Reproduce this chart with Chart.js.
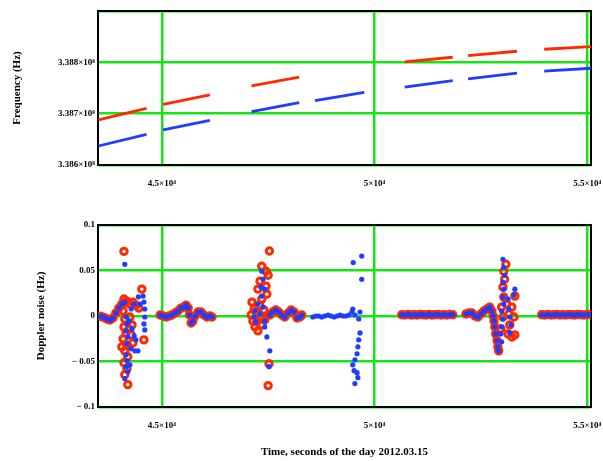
<!DOCTYPE html>
<html>
<head>
<meta charset="utf-8">
<script src="https://cdn.jsdelivr.net/npm/chart.js@4.4.1/dist/chart.umd.min.js"></script>
<style>
  body { margin: 0; background: #fff; }
  #wrap { position: relative; width: 603px; height: 461px; }
  canvas { position: absolute; left: 0; }
  #freqChart { top: 0; }
  #noiseChart { top: 200px; }
</style>
</head>
<body>
<div id="wrap">
  <canvas id="freqChart" width="603" height="200"></canvas>
  <canvas id="noiseChart" width="603" height="261"></canvas>
</div>
<script>
// Axis ticks and labels
const timeTicks = [45000, 50000, 55000];
const timeTickLabels = ['4.5×10⁴', '5×10⁴', '5.5×10⁴'];
const freqTicks = [3.386e8, 3.387e8, 3.388e8, 3.389e8];
const freqTickLabels = ['3.386×10⁸', '3.387×10⁸', '3.388×10⁸', ''];
const noiseTicks = [-0.1, -0.05, 0, 0.05, 0.1];
const noiseTickLabels = ['− 0.1', '− 0.05', '0', '0.05', '0.1'];

// Top plot: frequency passes (null = no data between passes)
const freqTime = [43510, 44640, 44840, 45030, 46130, 46620, 47110, 48230, 48400, 48600, 49760, 50200,
                  50710, 51840, 52020, 52200, 53350, 53670, 53990, 55090];
const freqRed = [3.386877e8, 3.387105e8, null, 3.387183e8, 3.387365e8, null, 3.387540e8, 3.387710e8, null,
                 null, null, null, 3.388008e8, 3.388099e8, null, 3.388131e8, 3.388216e8, null, 3.388255e8, 3.388306e8];
const freqBlue = [3.386370e8, 3.386598e8, null, 3.386682e8, 3.386871e8, null, 3.387039e8, 3.387214e8, null,
                  3.387253e8, 3.387417e8, null, 3.387515e8, 3.387643e8, null, 3.387676e8, 3.387788e8, null, 3.387827e8, 3.387885e8];

// Bottom plot: quiet stretches shared by both series
const bandTime = [
  43500, 43570, 43640, 43710, 43780, 43850, 43920, 43990, 44060, 44130,
  44960, 45030, 45100, 45170, 45240, 45310, 45380, 45450, 45520, 45570, 45620, 45650, 45690, 45730, 45780, 45850, 45920, 45990, 46060, 46130, 46180,
  47540, 47610, 47680, 47750, 47820, 47890, 47970, 48040, 48110, 48180, 48250, 48290,
  50640, 50710, 50790, 50860, 50930, 51000, 51070, 51140, 51210, 51280, 51350, 51420, 51490, 51560, 51630, 51700, 51770, 51840,
  52150, 52220, 52290, 52360, 52430, 52500, 52570, 52640, 52710, 52760, 52790, 52810, 52830, 52850, 52880, 52900, 52920,
  53930, 54000, 54080, 54150, 54220, 54290, 54360, 54430, 54500, 54570, 54640, 54710, 54780, 54850, 54920, 54990, 55060
];
const bandNoise = [
  0, -0.0005, -0.0016, -0.0033, -0.0044, -0.0022, 0.0033, 0.0087, 0.0131, 0.0153,
  0.0011, 0, -0.0011, 0, 0.0011, 0.0033, 0.0055, 0.0087, 0.0098, 0.0120, 0.0087, 0.0011, -0.0077, -0.0055, 0, 0.0044, 0.0044, 0.0011, -0.0011, 0, -0.0011,
  0.0011, 0.0044, 0.0066, 0.0044, 0.0011, -0.0011, 0.0033, 0.0066, 0.0044, -0.0022, -0.0011, 0.0011,
  0.0014, 0.0011, 0.0016, 0.0011, 0.0014, 0.0011, 0.0016, 0.0014, 0.0011, 0.0016, 0.0011, 0.0014, 0.0016, 0.0011, 0.0014, 0.0011, 0.0016, 0.0014,
  0.0022, 0.0033, 0.0033, 0, -0.0011, 0.0022, 0.0055, 0.0077, 0.0098, 0.0055, 0, -0.0055, -0.0120, -0.0197, -0.0270, -0.0339, -0.0383,
  0.0014, 0.0011, 0.0016, 0.0011, 0.0014, 0.0016, 0.0011, 0.0014, 0.0011, 0.0016, 0.0014, 0.0011, 0.0016, 0.0014, 0.0011, 0.0014, 0.0016
];

// Red (open circles) scattered points
const redTime = [
  44110, 44180, 44250, 44320, 44390, 44460, 44090, 44130, 44110, 44160, 44090, 44180, 44130, 44200, 44110, 44180, 44130, 44200,
  44250, 44300, 44280, 44320, 44110, 44530, 44580, 44230, 44060,
  47530, 47350, 47450, 47500, 47310, 47450, 47260, 47470, 47350, 47120, 47170, 47100, 47140, 47190, 47260, 47350, 47350, 47520, 47500,
  47210, 47300, 47400, 47420, 47230,
  52970, 53020, 52990, 53040, 53020, 53060, 53040, 53090, 53110, 53160, 53180, 53140, 53230, 53300, 53280, 53300, 53230
];
const redNoise = [
  0.0186, 0.0164, 0.0131, 0.0153, 0.0120, 0.0087, 0.0055, -0.0033, -0.0120, -0.0186, -0.0251, -0.0317, -0.0383, -0.0448, -0.0514, -0.0579, -0.0645, -0.0754,
  -0.0011, -0.0098, -0.0208, -0.0295, 0.0710, 0.0295, -0.0262, -0.0142, -0.0339,
  0.0714, 0.0546, 0.0492, 0.0448, 0.0383, 0.0328, 0.0295, 0.0240, 0.0186, 0.0153, 0.0077, 0.0011, -0.0055, -0.0120, -0.0164, -0.0011, -0.0098, -0.0525, -0.0765,
  0.0044, 0.0120, 0.0066, -0.0044, -0.0066,
  -0.0142, -0.0011, 0.0098, 0.0208, 0.0317, 0.0404, 0.0492, 0.0568, 0.0131, 0.0022, -0.0098, -0.0197, -0.0230, -0.0208, -0.0011, 0.0219, 0.0098
];

// Blue (filled dots) scattered points
const blueTime = [
  44130, 44560, 44580, 44600, 44600, 44580, 44600, 44160, 44180, 44160, 44200, 44180, 44280, 44370, 44440, 44160, 44180, 44160, 44200, 44130,
  44250, 44230, 44300, 44350, 44390, 44280, 44350, 44450, 44490,
  47350, 47380, 47330, 47350, 47260, 47190, 47170, 47210, 47310, 47380, 47420, 47420, 47470, 47540, 47520, 47420,
  48550, 48620, 48690, 48760, 48830, 48910, 48980, 49050, 49120, 49190, 49260, 49330, 49400, 49470,
  49500, 49700, 49700, 49490, 49540, 49660, 49630, 49660, 49630, 49610, 49590, 49540, 49490, 49520, 49590, 49610, 49540,
  52990, 52970, 52990, 53020, 52990, 53040, 53020, 53040, 53020, 53060, 53040, 53020, 53140, 53160, 53180, 53210, 53180, 53280, 53300
];
const blueNoise = [
  0.0568, 0.0219, 0.0153, 0.0077, -0.0011, -0.0087, -0.0153, -0.0011, -0.0087, -0.0164, -0.0230, -0.0306, -0.0361, -0.0383, -0.0383, -0.0426, -0.0492, -0.0557, -0.0612, -0.0689,
  -0.0536, -0.0055, -0.0142, -0.0219, -0.0262, 0.0077, 0.0131, 0.0211, 0.0131,
  0.0492, 0.0404, 0.0317, 0.0219, 0.0131, 0.0055, -0.0011, -0.0066, 0.0022, 0.0098, -0.0055, -0.0120, -0.0230, -0.0383, -0.0557, 0.0295,
  -0.0011, 0, 0, -0.0011, 0, 0.0011, 0, -0.0011, 0, 0.0011, 0, 0, 0.0011, 0.0044,
  0.0587, 0.0659, 0.0404, 0.0077, 0.0011, 0.0044, -0.0033, -0.0186, -0.0262, -0.0339, -0.0415, -0.0481, -0.0536, -0.0601, -0.0623, -0.0678, -0.0743,
  -0.0284, -0.0197, -0.0120, -0.0033, 0.0055, 0.0131, 0.0208, 0.0295, 0.0372, 0.0448, 0.0536, 0.0623, 0.0186, 0.0077, -0.0011, -0.0098, -0.0186, 0.0230, 0.0295
];

const RED = '#ff2a00';
const BLUE = '#1f3cff';
const GREEN = '#14e614';
const tickFont = { family: 'Liberation Serif', size: 9, weight: 'bold' };
const titleFont = { family: 'Liberation Serif', size: 11, weight: 'bold' };

function toPoints(xs, ys) {
    return xs.map((x, i) => ({ x: x, y: ys[i] }));
}

// Black frame round the plot area, drawn over the grid but under the data
const frameBox = {
    id: 'frameBox',
    beforeDatasetsDraw(chart) {
        const { ctx, chartArea: a } = chart;
        ctx.save();
        ctx.strokeStyle = '#000';
        ctx.lineWidth = 2;
        ctx.strokeRect(a.left, a.top, a.right - a.left, a.bottom - a.top);
        ctx.restore();
    }
};

function timeAxis(height, title) {
    return {
        type: 'linear',
        min: 43500,
        max: 55090,
        afterBuildTicks: s => { s.ticks = timeTicks.map(v => ({ value: v })); },
        afterFit: s => {
            s.height = height;
            // don't let the last label squeeze the plot area
            s.paddingLeft = 0;
            s.paddingRight = 0;
        },
        ticks: {
            font: tickFont, color: '#000', padding: 13, maxRotation: 0, autoSkip: false,
            callback: (v, i) => timeTickLabels[i]
        },
        grid: { color: GREEN, lineWidth: 2.5, drawTicks: false },
        border: { display: false },
        title: title
    };
}

function valueAxis(min, max, ticks, labels, title, titlePad) {
    return {
        type: 'linear',
        min: min,
        max: max,
        afterBuildTicks: s => { s.ticks = ticks.map(v => ({ value: v })); },
        afterFit: s => {
            s.width = 98;
            s.paddingTop = 0;
            s.paddingBottom = 0;
        },
        ticks: {
            font: tickFont, color: '#000', padding: 3, autoSkip: false,
            callback: (v, i) => labels[i]
        },
        grid: { color: GREEN, lineWidth: 2.5, drawTicks: false },
        border: { display: false },
        title: { display: true, text: title, font: titleFont, color: '#000', padding: { top: titlePad, bottom: 0 } }
    };
}

const commonOpts = {
    responsive: false,
    animation: false,
    devicePixelRatio: 1,
    plugins: { legend: { display: false }, tooltip: { enabled: false } }
};

// Top: frequency
new Chart(document.getElementById('freqChart'), {
    type: 'line',
    data: {
        datasets: [
            { data: toPoints(freqTime, freqBlue), borderColor: BLUE, borderWidth: 2.8, pointRadius: 0, spanGaps: false, order: 0 },
            { data: toPoints(freqTime, freqRed), borderColor: RED, borderWidth: 2.8, pointRadius: 0, spanGaps: false, order: 1 }
        ]
    },
    options: Object.assign({}, commonOpts, {
        layout: { padding: { top: 11, right: 12, bottom: 0, left: 0 } },
        scales: {
            x: timeAxis(35, { display: false }),
            y: valueAxis(3.386e8, 3.389e8, freqTicks, freqTickLabels, 'Frequency (Hz)', 11)
        }
    }),
    plugins: [frameBox]
});

// Bottom: Doppler noise
new Chart(document.getElementById('noiseChart'), {
    type: 'scatter',
    data: {
        datasets: [
            {
                data: toPoints(bandTime.concat(blueTime), bandNoise.concat(blueNoise)),
                pointRadius: 2.6, pointBorderWidth: 0, pointBackgroundColor: BLUE, pointBorderColor: BLUE, order: 0
            },
            {
                data: toPoints(bandTime.concat(redTime), bandNoise.concat(redNoise)),
                pointRadius: 3.2, pointBorderWidth: 3, pointBackgroundColor: 'rgba(0,0,0,0)', pointBorderColor: RED, order: 1
            }
        ]
    },
    options: Object.assign({}, commonOpts, {
        layout: { padding: { top: 25, right: 12, bottom: 0, left: 0 } },
        scales: {
            x: timeAxis(54, { display: true, text: 'Time, seconds of the day 2012.03.15', font: titleFont, color: '#000', padding: { top: 0, bottom: 2 } }),
            y: valueAxis(-0.1, 0.1, noiseTicks, noiseTickLabels, 'Doppler noise (Hz)', 35)
        }
    }),
    plugins: [frameBox]
});
</script>
</body>
</html>
